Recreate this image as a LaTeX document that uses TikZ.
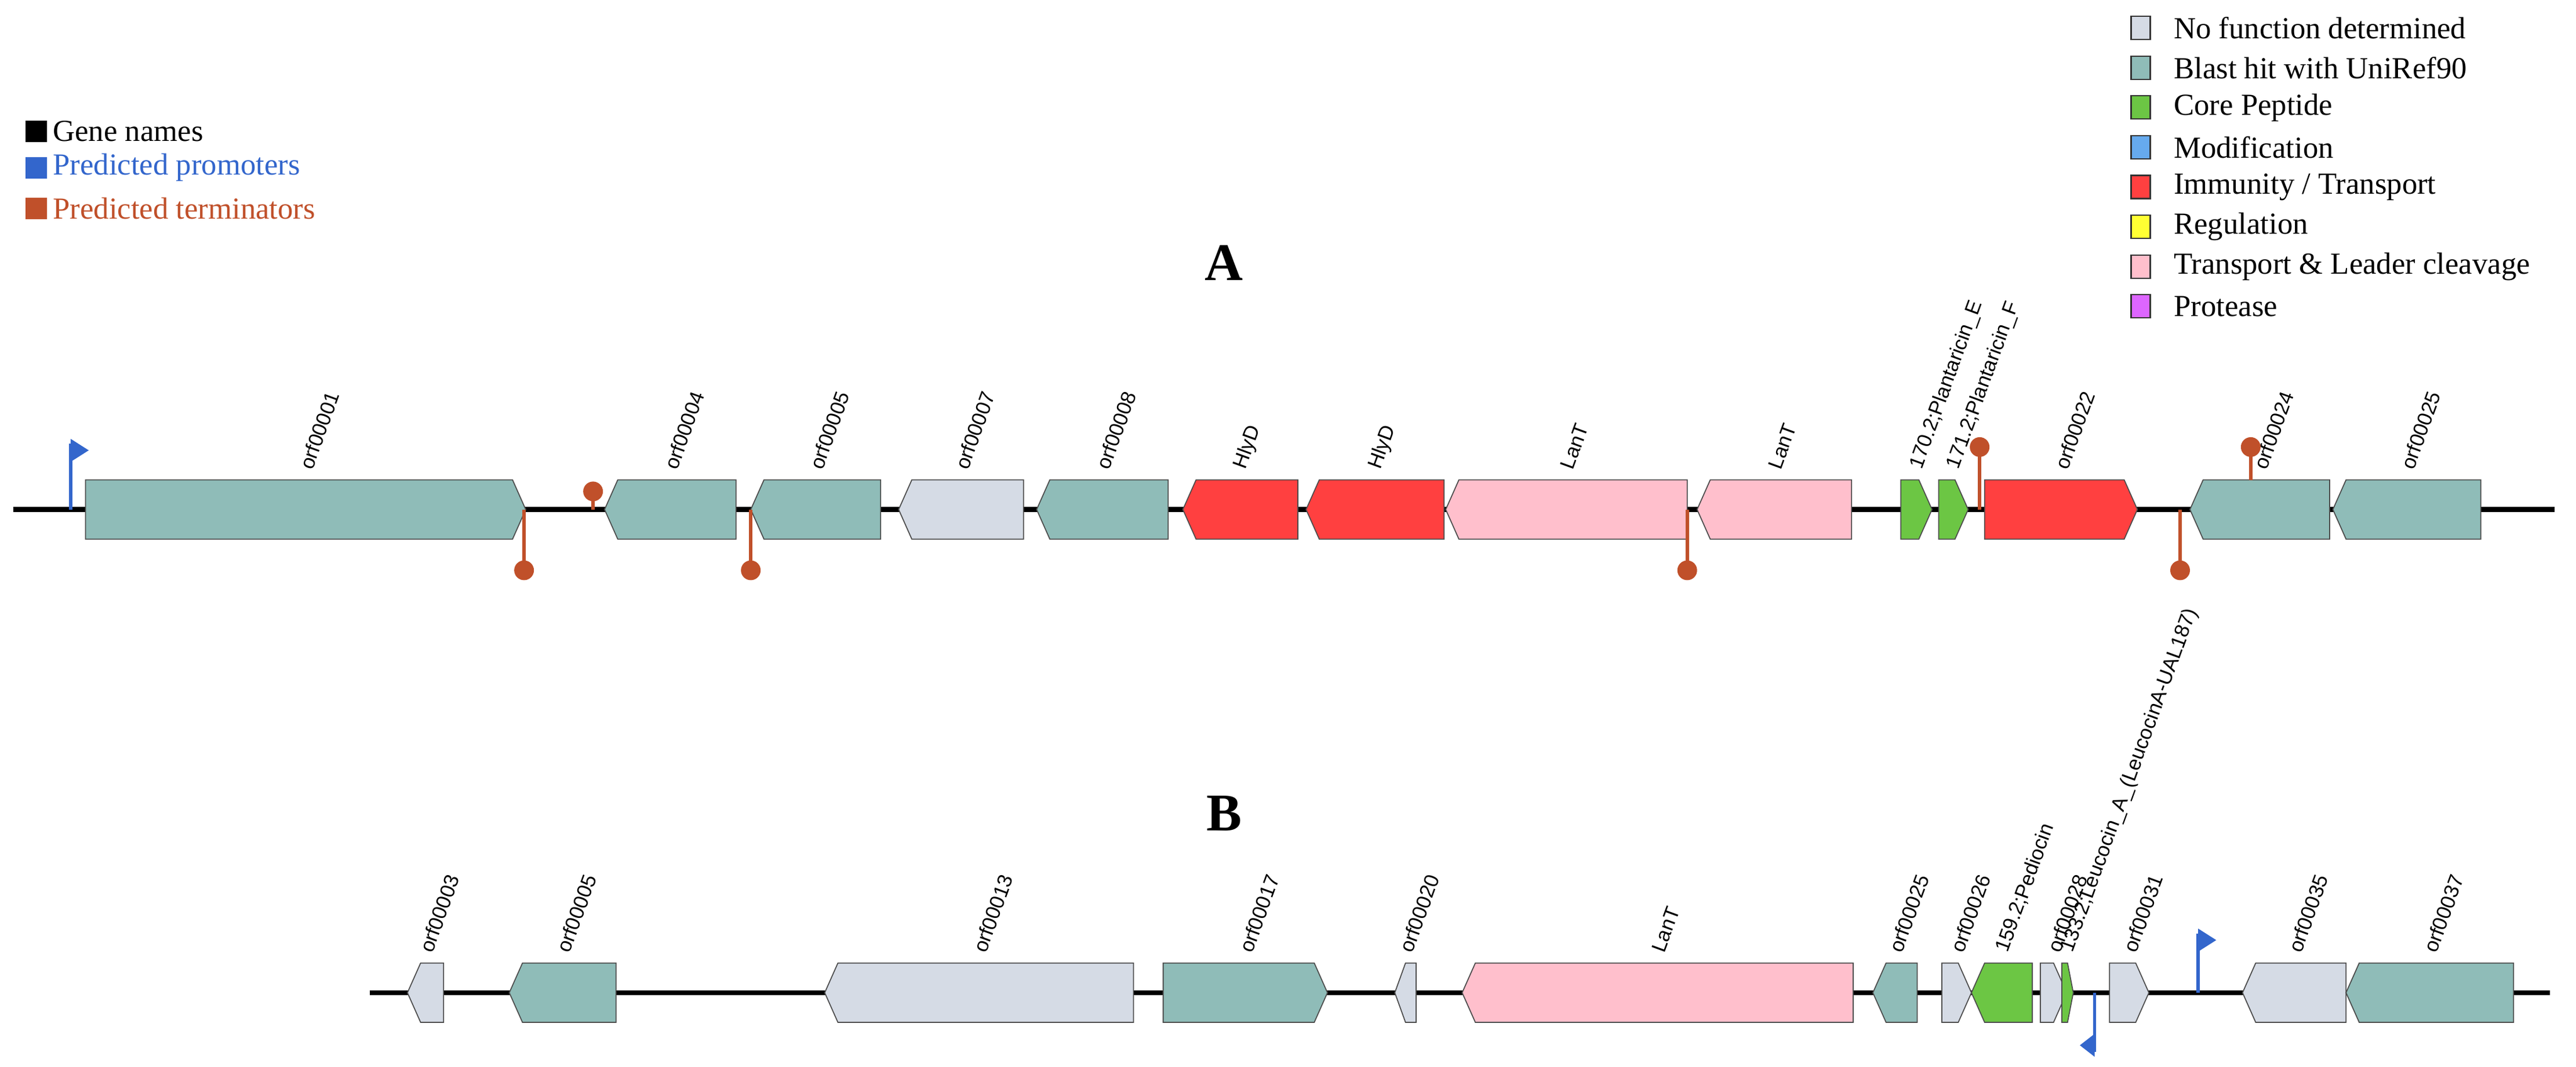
\documentclass[tikz,border=0pt]{standalone}
\usepackage{fontspec}
\setmainfont{Liberation Serif}
\newfontfamily\lab{Liberation Sans}
\definecolor{teal}{HTML}{8FBCB8}
\definecolor{nof}{HTML}{D5DBE5}
\definecolor{core}{HTML}{6CC644}
\definecolor{modi}{HTML}{66AAEE}
\definecolor{immu}{HTML}{FF4040}
\definecolor{regu}{HTML}{FFFF33}
\definecolor{tlc}{HTML}{FFBFCC}
\definecolor{prot}{HTML}{DD66FF}
\definecolor{term}{HTML}{C0502A}
\definecolor{prom}{HTML}{3366CC}
\newcommand\gene[6]{%
  \pgfmathsetmacro\tp{min(8,(#2-#1)/2)}%
  \if#3r
    \draw[gbox,fill=#4] (#1,#5-18) -- ({#2-\tp},#5-18) -- (#2,#5) -- ({#2-\tp},#5+18) -- (#1,#5+18) -- cycle;
  \else
    \draw[gbox,fill=#4] ({#1+\tp},#5-18) -- (#2,#5-18) -- (#2,#5+18) -- ({#1+\tp},#5+18) -- (#1,#5) -- cycle;
  \fi
  \node[lbl] at ({(#1+#2)/2},#5-25) {#6};}
\newcommand\termup[3]{\draw[term,line width=1.6pt] (#1,#2) -- (#1,#3); \fill[term] (#1,#3) circle (6);}
\begin{document}
\begin{tikzpicture}[x=0.028342cm,y=-0.028342cm,
  gbox/.style={draw=black!70,line width=0.5pt},
  lbl/.style={font=\lab\fontsize{10}{11}\selectfont,anchor=west,rotate=70,inner sep=0pt},
  leg/.style={font=\fontsize{15}{16}\selectfont,anchor=west,inner sep=0pt},
  sq/.style={draw=black!80,line width=0.6pt,minimum width=0.33cm,minimum height=0.4cm,inner sep=0pt}]
\useasboundingbox (0,0) rectangle (1568,649);
% left legend
\node[fill=black,minimum size=0.37cm,inner sep=0pt] (k1) at (22,80) {};
\node[leg] (t1) at (32,80) {Gene names};
\node[fill=prom,minimum size=0.37cm,inner sep=0pt] (k2) at (22,102) {};
\node[leg,text=prom] (t2) at (32,102) {Predicted promoters};
\node[fill=term,minimum size=0.37cm,inner sep=0pt] (k3) at (22,127) {};
\node[leg,text=term] (t3) at (32,127) {Predicted terminators};
% right legend
\foreach \c/\t [count=\i] in {nof/No function determined,teal/Blast hit with UniRef90,core/Core Peptide,modi/Modification,immu/{Immunity / Transport},regu/Regulation,tlc/Transport \& Leader cleavage,prot/Protease}{
  \node[sq,fill=\c] (r\i) at (1303,{17+24.2*(\i-1)}) {};
  \node[leg] (rt\i) at (1323,{17+24.2*(\i-1)}) {\t};
}
% titles
\node[font=\bfseries\fontsize{26}{28}\selectfont] (A) at (745,160) {A};
\node[font=\bfseries\fontsize{26}{28}\selectfont] (B) at (745,495) {B};
% track A
\draw[line width=2.4pt] (8,310) -- (1555,310);
\draw[prom,line width=1.6pt] (43,310) -- (43,270);
\fill[prom] (43,267) -- (54,274) -- (43,281) -- cycle;
\gene{52}{320}{r}{teal}{310}{orf00001}
\gene{368}{448}{l}{teal}{310}{orf00004}
\gene{457}{536}{l}{teal}{310}{orf00005}
\gene{547}{623}{l}{nof}{310}{orf00007}
\gene{631}{711}{l}{teal}{310}{orf00008}
\gene{720}{790}{l}{immu}{310}{HlyD}
\gene{795}{879}{l}{immu}{310}{HlyD}
\gene{880}{1027}{l}{tlc}{310}{LanT}
\gene{1033}{1127}{l}{tlc}{310}{LanT}
\gene{1157}{1176}{r}{core}{310}{170.2;Plantaricin\_E}
\gene{1180}{1198}{r}{core}{310}{171.2;Plantaricin\_F}
\gene{1208}{1301}{r}{immu}{310}{orf00022}
\gene{1333}{1418}{l}{teal}{310}{orf00024}
\gene{1420}{1510}{l}{teal}{310}{orf00025}
\termup{319}{310}{347}
\termup{457}{310}{347}
\termup{1027}{310}{347}
\termup{1327}{310}{347}
\termup{361}{310}{299}
\termup{1205}{310}{272}
\termup{1370}{292}{272}
% track B
\draw[line width=2.4pt] (225,604) -- (1552,604);
\gene{248}{270}{l}{nof}{604}{orf00003}
\gene{310}{375}{l}{teal}{604}{orf00005}
\gene{502}{690}{l}{nof}{604}{orf00013}
\gene{708}{808}{r}{teal}{604}{orf00017}
\gene{849}{862}{l}{nof}{604}{orf00020}
\gene{890}{1128}{l}{tlc}{604}{LanT}
\gene{1140}{1167}{l}{teal}{604}{orf00025}
\gene{1182}{1200}{r}{nof}{604}{orf00026}
\gene{1200}{1237}{l}{core}{604}{159.2;Pediocin}
\gene{1242}{1258}{r}{nof}{604}{orf00028}
\gene{1255}{1262}{r}{core}{604}{133.2;Leucocin\_A\_(LeucocinA-UAL187)}
\gene{1284}{1308}{r}{nof}{604}{orf00031}
\gene{1365}{1428}{l}{nof}{604}{orf00035}
\gene{1428}{1530}{l}{teal}{604}{orf00037}
\draw[prom,line width=1.6pt] (1338,604) -- (1338,568);
\fill[prom] (1338,565) -- (1349,572) -- (1338,579) -- cycle;
\draw[prom,line width=1.6pt] (1275,604) -- (1275,640);
\fill[prom] (1275,643) -- (1266,636) -- (1275,629) -- cycle;
\end{tikzpicture}
\end{document}
